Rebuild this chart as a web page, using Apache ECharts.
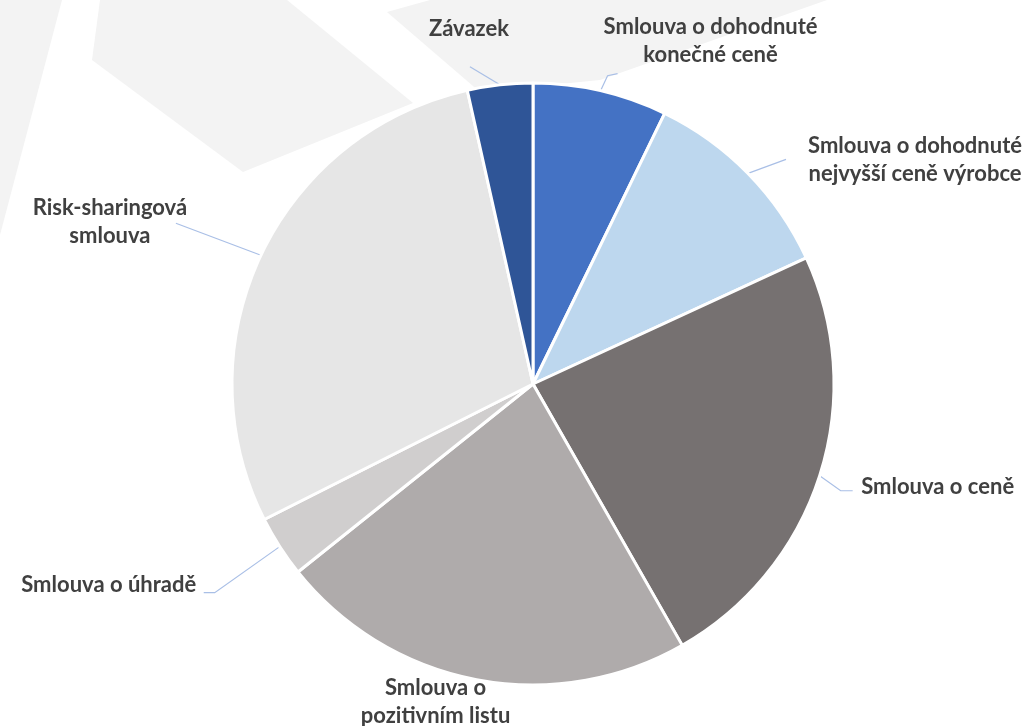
<!DOCTYPE html>
<html>
<head>
<meta charset="utf-8">
<script src="https://cdn.jsdelivr.net/npm/echarts@6/dist/echarts.min.js"></script>
<style>
html,body{margin:0;padding:0;background:#fff;}
#chart{width:1030px;height:726px;}
</style>
</head>
<body>
<div id="chart"></div>
<script>
// ---- data ----
const categories = [
  'Smlouva o dohodnuté\nkonečné ceně',
  'Smlouva o dohodnuté\nnejvyšší ceně výrobce',
  'Smlouva o ceně',
  'Smlouva o\npozitivním listu',
  'Smlouva o úhradě',
  'Risk-sharingová\nsmlouva',
  'Závazek'
];
const shares = [7.2, 10.9, 23.6, 22.5, 3.3, 28.9, 3.5];

// ---- styles / layout ----
const colors = ['#4472C4', '#BDD7EE', '#767171', '#AFABAB', '#D0CECE', '#E6E6E6', '#2F5597'];
// label centre offset from the slice's outer mid point
const labelOffsets = [[110, -50], [167, -13], [118, 11], [-41, 22], [-171, 38], [-151, -33], [-31, -56]];
// leader line bend points offsets from the slice's outer mid point (null = no line)
const lineOffsets = [
  [[7, -15], [17, -17]],
  [[38, -14]],
  [[21, 15], [33, 15]],
  null,
  [[-65, 46], [-76, 46]],
  [[-85, -32]],
  [[-30, -18]]
];

const chart = echarts.init(document.getElementById('chart'), null, {renderer: 'canvas'});

const option = {
  backgroundColor: '#ffffff',
  animation: false,
  graphic: [
    {type: 'polygon', z: -10, shape: {points: [[0, 0], [62, 0], [0, 235]]}, style: {fill: '#F3F3F3'}},
    {type: 'polygon', z: -10, shape: {points: [[100, 0], [287, 0], [413, 103], [243, 172], [92, 60]]}, style: {fill: '#F3F3F3'}},
    {type: 'polygon', z: -10, shape: {points: [[387, 12], [430, 0], [827, 0], [600, 80], [480, 92]]}, style: {fill: '#F3F3F3'}}
  ],
  series: [{
    type: 'pie',
    z: 2,
    center: [533, 384],
    radius: 301,
    startAngle: 90,
    clockwise: true,
    avoidLabelOverlap: false,
    itemStyle: {borderColor: '#ffffff', borderWidth: 3},
    label: {
      show: true,
      position: 'outside',
      color: '#404040',
      fontFamily: 'Lato',
      fontWeight: 'bold',
      fontSize: 22,
      lineHeight: 28,
      align: 'center'
    },
    labelLine: {show: true, length: 10, length2: 10, lineStyle: {color: '#A9BFE6', width: 1.2}},
    emphasis: {disabled: true},
    labelLayout: function (params) {
      const i = params.dataIndex;
      const p0 = params.labelLinePoints ? params.labelLinePoints[0] : [0, 0];
      const off = labelOffsets[i];
      const res = {
        x: p0[0] + off[0],
        y: p0[1] + off[1],
        align: 'center',
        verticalAlign: 'middle'
      };
      if (lineOffsets[i]) {
        res.labelLinePoints = [p0].concat(lineOffsets[i].map(o => [p0[0] + o[0], p0[1] + o[1]]));
      } else {
        res.labelLinePoints = [p0, p0, p0];
      }
      return res;
    },
    data: categories.map((name, i) => ({
      name: name,
      value: shares[i],
      itemStyle: {color: colors[i]},
      labelLine: {show: lineOffsets[i] !== null}
    }))
  }]
};
chart.setOption(option);
</script>
</body>
</html>
